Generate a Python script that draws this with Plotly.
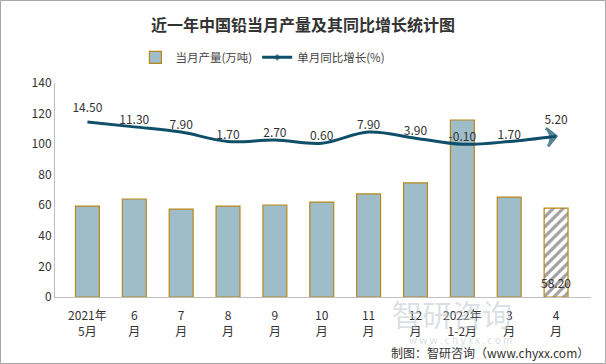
import plotly.graph_objects as go

categories = ["2021年<br>5月", "6<br>月", "7<br>月", "8<br>月", "9<br>月", "10<br>月",
              "11<br>月", "12<br>月", "2022年<br>1-2月", "3<br>月", "4<br>月"]
production = [59.5, 64.1, 57.5, 59.5, 60.2, 62.1, 67.4, 74.6, 115.8, 65.4, 58.2]
growth = [14.50, 11.30, 7.90, 1.70, 2.70, 0.60, 7.90, 3.90, -0.10, 1.70, 5.20]

FONT = "Noto Sans CJK SC"
BAR_FILL = "#9fbdc9"
BAR_EDGE = "#b8871a"
LINE_C = "#0f4f69"

n = len(categories)
bar_colors = [BAR_FILL] * (n - 1) + ["white"]
shapes_pat = [""] * (n - 1) + ["/"]

fig = go.Figure()
fig.add_trace(go.Bar(
    x=categories, y=production, name="当月产量(万吨)",
    marker=dict(color=bar_colors, line=dict(color=BAR_EDGE, width=1.2),
                pattern=dict(shape=shapes_pat, fgcolor=BAR_FILL, bgcolor="white",
                             size=7, solidity=0.45)),
))

symbols = ["diamond"] + ["circle"] * (n - 2) + ["arrow-wide-open"]
sizes = [9] + [0] * (n - 2) + [13]
fig.add_trace(go.Scatter(
    x=categories, y=growth, name="单月同比增长(%)", yaxis="y2",
    mode="lines+markers+text",
    line=dict(color=LINE_C, width=3, shape="spline", smoothing=1.0),
    marker=dict(symbol=symbols, size=sizes, color=LINE_C, angleref="previous",
                line=dict(color=LINE_C, width=3)),
    text=[f"{v:.2f}" for v in growth], textposition="top center",
    textfont=dict(family=FONT, size=12, color="#333333"),
    cliponaxis=False,
))

fig.update_layout(
    width=606, height=364,
    margin=dict(l=55, r=15, t=83, b=67),
    paper_bgcolor="white", plot_bgcolor="white",
    font=dict(family=FONT, size=12, color="#333333"),
    title=dict(text="<b>近一年中国铅当月产量及其同比增长统计图</b>", x=0.5, xanchor="center",
               y=0.93, yanchor="middle", font=dict(family=FONT, size=16, color="#333333")),
    bargap=0.49,
    showlegend=True,
    legend=dict(orientation="h", x=0.15, xanchor="left", y=1.12, yanchor="middle",
                font=dict(family=FONT, size=11.5, color="#444444"), itemwidth=30,
                bgcolor="rgba(0,0,0,0)"),
    xaxis=dict(showgrid=False, showline=True, linecolor="#bfbfbf", ticks="",
               ticklabelstandoff=8,
               tickfont=dict(family=FONT, size=12, color="#333333")),
    yaxis=dict(range=[0, 140], dtick=20, showgrid=False, showline=True, linecolor="#bfbfbf",
               zeroline=False, tickfont=dict(family=FONT, size=12, color="#333333")),
    yaxis2=dict(range=[-100, 40], overlaying="y", side="right", visible=False),
    shapes=[dict(type="rect", xref="paper", yref="paper", x0=-54.5/536, x1=1+14.5/536,
                 y0=-66.5/214, y1=1+82.5/214, line=dict(color="#a6a6a6", width=1))],
    annotations=[
        dict(text=f"{production[-1]:.2f}", x=categories[-1], y=0, xref="x", yref="y",
             yanchor="bottom", yshift=4, showarrow=False,
             font=dict(family=FONT, size=12, color="#333333")),
        dict(text="智研咨询", xref="paper", yref="paper", x=(452-55)/536, y=(297-313)/214,
             xanchor="center", yanchor="middle", showarrow=False,
             font=dict(family=FONT, size=30, color="rgba(190,198,206,0.55)")),
        dict(text="w w w . c h y x x . c o m", xref="paper", yref="paper",
             x=(460-55)/536, y=(297-339)/214, xanchor="center", yanchor="middle", showarrow=False,
             font=dict(family=FONT, size=10, color="rgba(190,198,206,0.6)")),
        dict(text="制图：智研咨询（www.chyxx.com）", xref="paper", yref="paper",
             x=1, y=(297-352)/214, xanchor="right", yanchor="middle", showarrow=False,
             font=dict(family=FONT, size=12, color="#333333")),
    ],
)

fig.write_html("out.html", config={"displayModeBar": False},
               post_script="document.body.style.margin='0';document.body.style.overflow='hidden';")
